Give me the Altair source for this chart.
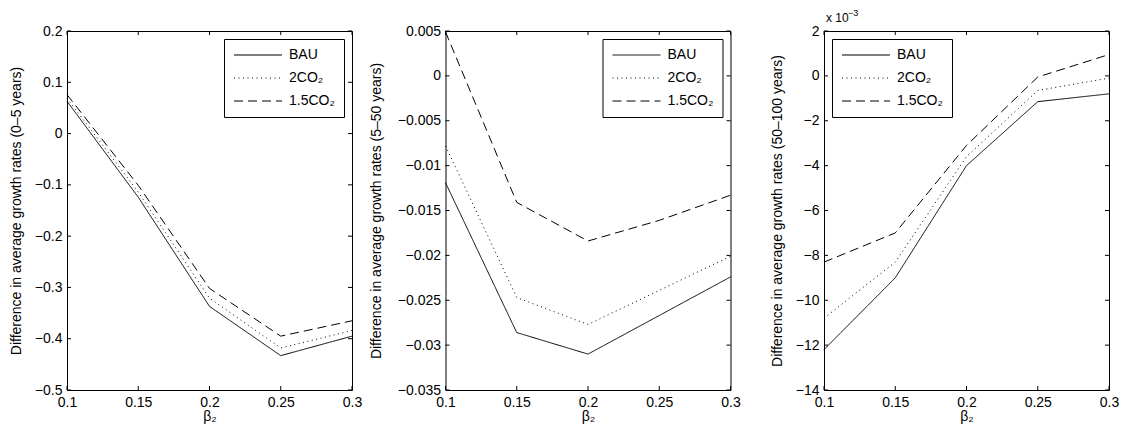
import altair as alt
import pandas as pd

# ---------------- data ----------------
beta2 = [0.1, 0.15, 0.2, 0.25, 0.3]
series = ["BAU", "2CO₂", "1.5CO₂"]

# panel 1: 0-5 years
p1_bau = [0.063, -0.124, -0.337, -0.433, -0.395]
p1_2co2 = [0.069, -0.114, -0.321, -0.418, -0.384]
p1_15co2 = [0.076, -0.101, -0.302, -0.395, -0.365]

# panel 2: 5-50 years
p2_bau = [-0.0119, -0.0286, -0.0310, -0.0267, -0.0224]
p2_2co2 = [-0.0078, -0.0247, -0.0277, -0.0239, -0.0201]
p2_15co2 = [0.0049, -0.0141, -0.0184, -0.0161, -0.0133]

# panel 3: 50-100 years (in units of 1e-3)
p3_bau = [-12.2, -9.0, -4.0, -1.15, -0.8]
p3_2co2 = [-10.8, -8.3, -3.6, -0.65, -0.1]
p3_15co2 = [-8.3, -7.0, -3.1, -0.05, 0.95]

x_ticks = [0.1, 0.15, 0.2, 0.25, 0.3]
p1_yticks = [-0.5, -0.4, -0.3, -0.2, -0.1, 0, 0.1, 0.2]
p2_yticks = [-0.035, -0.03, -0.025, -0.02, -0.015, -0.01, -0.005, 0, 0.005]
p3_yticks = [-14, -12, -10, -8, -6, -4, -2, 0, 2]

titles = [
    "Difference in average growth rates (0–5 years)",
    "Difference in average growth rates (5–50 years)",
    "Difference in average growth rates (50–100 years)",
]
x_title = "β₂"
exp_base = ["x 10"]
exp_power = ["−3"]

# ---------------- style ----------------
FONT = "Liberation Sans"
W, H = 285, 359
TL = 4
dashes = [[1, 0], [1, 3.5], [9, 5]]
# legend line sample: horizontal path, 48 px long at symbolSize 144 (r = 6)
LEGEND_LINE = "M-1,0H7"


def panel(vals, ylo, yhi, yticks, ytitle, ext, orient, extra=None):
    df = pd.DataFrame({
        "beta": beta2 * 3,
        "value": vals[0] + vals[1] + vals[2],
        "series": [s for s in series for _ in beta2],
    })
    xs = alt.Scale(domain=[0.1, 0.3], nice=False, zero=False)
    ys = alt.Scale(domain=[ylo, yhi], nice=False, zero=False)
    xaxis = alt.Axis(values=x_ticks, title=x_title, format="~g", labelFlush=False,
                     labelOverlap=False, titlePadding=0)
    yaxis = alt.Axis(values=yticks, title=ytitle, format="~g", minExtent=ext,
                     maxExtent=ext, titlePadding=5, labelOverlap=False)
    X = alt.X("beta:Q", scale=xs, axis=xaxis)
    Y = alt.Y("value:Q", scale=ys, axis=yaxis)

    lines = alt.Chart(df).mark_line(color="black", strokeWidth=1).encode(
        x=X, y=Y,
        strokeDash=alt.StrokeDash(
            "series:N",
            sort=series,
            scale=alt.Scale(domain=series, range=dashes),
            legend=alt.Legend(
                title=None, orient=orient, offset=8, symbolType=LEGEND_LINE,
                symbolSize=144, symbolStrokeWidth=1, symbolStrokeColor="black",
                symbolFillColor="transparent",
                labelFont=FONT, labelFontSize=14, labelColor="black",
                strokeColor="black", fillColor="white", padding=9,
                rowPadding=9, labelOffset=42, labelLimit=200,
            ),
        ),
    )

    ytk = pd.DataFrame({"value": yticks})
    xtk = pd.DataFrame({"beta": x_ticks})
    rule = dict(color="black", strokeWidth=1)
    left = alt.Chart(ytk).mark_rule(**rule).encode(y=Y, x=alt.value(0), x2=alt.value(TL))
    right = alt.Chart(ytk).mark_rule(**rule).encode(y=Y, x=alt.value(W - TL), x2=alt.value(W))
    bottom = alt.Chart(xtk).mark_rule(**rule).encode(x=X, y=alt.value(H - TL), y2=alt.value(H))
    top = alt.Chart(xtk).mark_rule(**rule).encode(x=X, y=alt.value(0), y2=alt.value(TL))

    layers = [lines, left, right, bottom, top]
    if extra:
        layers += extra
    return alt.layer(*layers).properties(width=W, height=H)


exp1 = alt.Chart(pd.DataFrame({"t": exp_base})).mark_text(
    align="left", baseline="alphabetic", fontSize=12, font=FONT, color="black"
).encode(text="t:N", x=alt.value(2), y=alt.value(-9))
exp2 = alt.Chart(pd.DataFrame({"t": exp_power})).mark_text(
    align="left", baseline="alphabetic", fontSize=9, font=FONT, color="black"
).encode(text="t:N", x=alt.value(24), y=alt.value(-15))

c1 = panel([p1_bau, p1_2co2, p1_15co2], -0.5, 0.2, p1_yticks, titles[0], 39, "top-right")
c2 = panel([p2_bau, p2_2co2, p2_15co2], -0.035, 0.005, p2_yticks, titles[1], 57, "top-right")
c3 = panel([p3_bau, p3_2co2, p3_15co2], -14, 2, p3_yticks, titles[2], 35, "top-left",
           extra=[exp1, exp2])

chart = (
    alt.hconcat(c1, c2, c3, spacing=93.5, bounds="flush")
    .resolve_scale(strokeDash="independent")
    .properties(padding={"left": 0, "top": 0, "right": 0, "bottom": 0})
    .configure(font=FONT)
    .configure_view(stroke="black", strokeWidth=1)
    .configure_axis(
        domain=False, ticks=False, grid=False, labelPadding=5,
        labelFont=FONT, labelFontSize=14, labelColor="black",
        titleFont=FONT, titleFontSize=14, titleFontWeight="normal", titleColor="black",
    )
)

chart.save("out.html", embed_options={"renderer": "svg", "actions": False})
